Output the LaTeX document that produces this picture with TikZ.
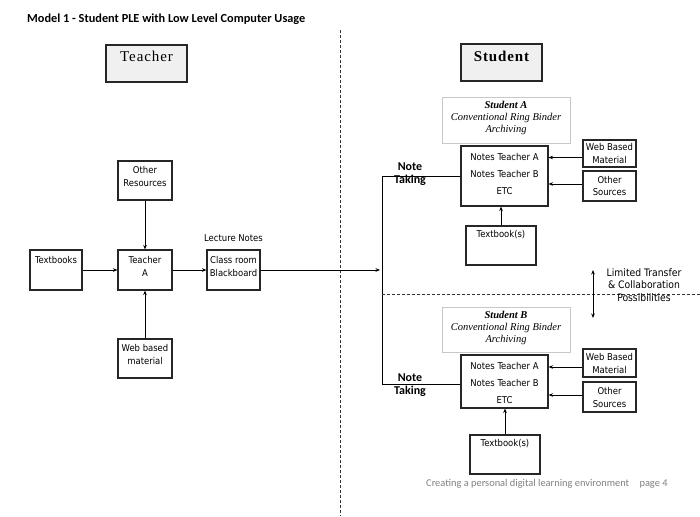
\documentclass[tikz,border=0pt]{standalone}
\usepackage{fontspec}
\setmainfont{Carlito}
\newfontfamily\boxfont{DejaVu Sans Condensed}
\newfontfamily\serifhead{Liberation Serif}
\newfontfamily\serifheadsp[LetterSpace=6]{Liberation Serif}
\usetikzlibrary{arrows.meta}
\definecolor{hdrfill}{HTML}{F0F0F0}
\definecolor{lblgray}{HTML}{C8C8C8}
\definecolor{footgray}{HTML}{808080}
\tikzset{
  bx/.style={draw=black!85, line width=1.1pt, inner sep=0pt},
  hdr/.style={bx, fill=hdrfill},
  lblbox/.style={draw=lblgray, line width=0.7pt, inner sep=0pt},
  tx/.style={font=\boxfont\fontsize{9.4}{10}\selectfont, inner sep=0pt, anchor=center},
  arr/.style={line width=1pt, -{Stealth[length=4.5pt,width=3.6pt]}},
  ln/.style={line width=1pt},
  dsh/.style={line width=0.9pt, dash pattern=on 3pt off 2pt, black!80},
  lbltext/.style={font=\serifhead\itshape\fontsize{10.5}{12}\selectfont, inner sep=0pt, align=center},
  notetake/.style={font=\bfseries\fontsize{12}{13}\selectfont, inner sep=0pt, align=center},
}
\newcommand{\bxat}[6]{% style, name, x1,y1,x2,y2
  \node[#1, minimum width={#5-#3}, minimum height={#6-#4}] (#2) at ({(#3+#5)/2},{(#4+#6)/2}) {};}
\begin{document}
\begin{tikzpicture}[x=1pt,y=-1pt]
\useasboundingbox (0,0) rectangle (700,516);
% title
\node[anchor=west, font=\bfseries\fontsize{12.3}{14}\selectfont, inner sep=0pt] (title) at (27,19) {Model 1 - Student PLE with Low Level Computer Usage};
% divider
\coordinate (dvt) at (340,30);
\coordinate (dvb) at (340,516);
\draw[dsh] (dvt) -- (dvb);
% headers
\bxat{hdr}{teacherH}{106}{45}{187}{82}
\node[font=\serifheadsp\fontsize{15}{16}\selectfont, inner sep=0pt] (teacherHt) at (146.5,56) {Teacher};
\bxat{hdr}{studentH}{461}{44}{542}{81}
\node[font=\serifheadsp\bfseries\fontsize{15}{16}\selectfont, inner sep=0pt] (studentHt) at (501.5,56) {Student};
% teacher side
\bxat{bx}{textbooks}{30}{250}{82}{290}
\node[tx] at (56,260) {Textbooks};
\bxat{bx}{teacherA}{118}{250}{172}{290}
\node[tx] at (145,260) {Teacher};
\node[tx] at (145,273) {A};
\bxat{bx}{otherRes}{118}{161}{172}{200}
\node[tx] at (145,170) {Other};
\node[tx] at (145,183) {Resources};
\bxat{bx}{web}{118}{339}{172}{378}
\node[tx] at (145,348) {Web based};
\node[tx] at (145,361) {material};
\bxat{bx}{board}{207}{250}{260}{290}
\node[tx] at (233.5,260) {Class room};
\node[tx] at (233.5,273) {Blackboard};
\node[tx] (lecture) at (233.5,238) {Lecture Notes};
\draw[arr] (textbooks.east) -- (teacherA.west);
\draw[arr] (otherRes.south) -- (teacherA.north);
\draw[arr] (web.north) -- (teacherA.south);
\draw[arr] (teacherA.east) -- (board.west);
% student side
\coordinate (vx) at (382,0);
\bxat{lblbox}{labelA}{442}{97}{570}{143}
\node[lbltext] at (506,118) {\textbf{Student A}\\Conventional Ring Binder\\Archiving};
\bxat{bx}{notesA}{461}{146}{548}{206}
\node[tx] at (504.5,157) {Notes Teacher A};
\node[tx] at (504.5,174) {Notes Teacher B};
\node[tx] at (504.5,191) {ETC};
\bxat{bx}{webA}{583}{140}{636}{167}
\node[tx] at (609.5,147) {Web Based};
\node[tx] at (609.5,160) {Material};
\bxat{bx}{otherA}{583}{171}{636}{201}
\node[tx] at (609.5,180) {Other};
\node[tx] at (609.5,192) {Sources};
\bxat{bx}{textA}{466}{226}{536}{265}
\node[tx] at (501,235) {Textbook(s)};
\draw[arr] ([yshift=-4pt]webA.west) -- ([yshift=-4pt]webA.west -| notesA.east);
\draw[arr] ([yshift=2pt]otherA.west) -- ([yshift=2pt]otherA.west -| notesA.east);
\draw[arr] (textA.north) -- (textA.north |- notesA.south);

\bxat{lblbox}{labelB}{442}{307}{570}{352}
\node[lbltext] at (506,328) {\textbf{Student B}\\Conventional Ring Binder\\Archiving};
\bxat{bx}{notesB}{461}{355}{548}{408}
\node[tx] at (504.5,366) {Notes Teacher A};
\node[tx] at (504.5,383) {Notes Teacher B};
\node[tx] at (504.5,400) {ETC};
\bxat{bx}{webB}{583}{349}{636}{377}
\node[tx] at (609.5,357) {Web Based};
\node[tx] at (609.5,370) {Material};
\bxat{bx}{otherB}{583}{382}{636}{412}
\node[tx] at (609.5,391) {Other};
\node[tx] at (609.5,404) {Sources};
\bxat{bx}{textB}{470}{435}{540}{474}
\node[tx] at (505,444) {Textbook(s)};
\draw[arr] ([yshift=-4pt]webB.west) -- ([yshift=-4pt]webB.west -| notesB.east);
\draw[arr] ([yshift=2pt]otherB.west) -- ([yshift=2pt]otherB.west -| notesB.east);
\draw[arr] (textB.north) -- (textB.north |- notesB.south);

% note taking connectors
\coordinate (jt) at (382,176);
\coordinate (jb) at (382,384);
\draw[ln] (notesA.west |- jt) -- (jt) -- (jb) -- (notesB.west |- jb);
\draw[arr] (board.east) -- ([xshift=-2pt]vx |- board.east);
\node[notetake] (ntA) at (410,174) {Note\\Taking};
\node[notetake] (ntB) at (410,385) {Note\\Taking};

% limited transfer
\coordinate (dl) at (382,294);
\coordinate (dr) at (700,294);
\draw[dsh] (dl) -- (dr);
\coordinate (lt) at (593,270);
\coordinate (lb) at (593,318);
\draw[line width=1pt, {Stealth[length=4.5pt,width=3.6pt]}-{Stealth[length=4.5pt,width=3.6pt]}] (lt) -- (lb);
\node[tx, align=center, font=\boxfont\fontsize{10.3}{12.5}\selectfont] (limited) at (644,285) {Limited Transfer\\\& Collaboration\\Possibilities};
% footer
\node[anchor=west, inner sep=0pt, text=footgray, font=\fontsize{10.4}{12}\selectfont] (footer) at (426,484) {Creating a personal digital learning environment\quad page 4};
\end{tikzpicture}
\end{document}
